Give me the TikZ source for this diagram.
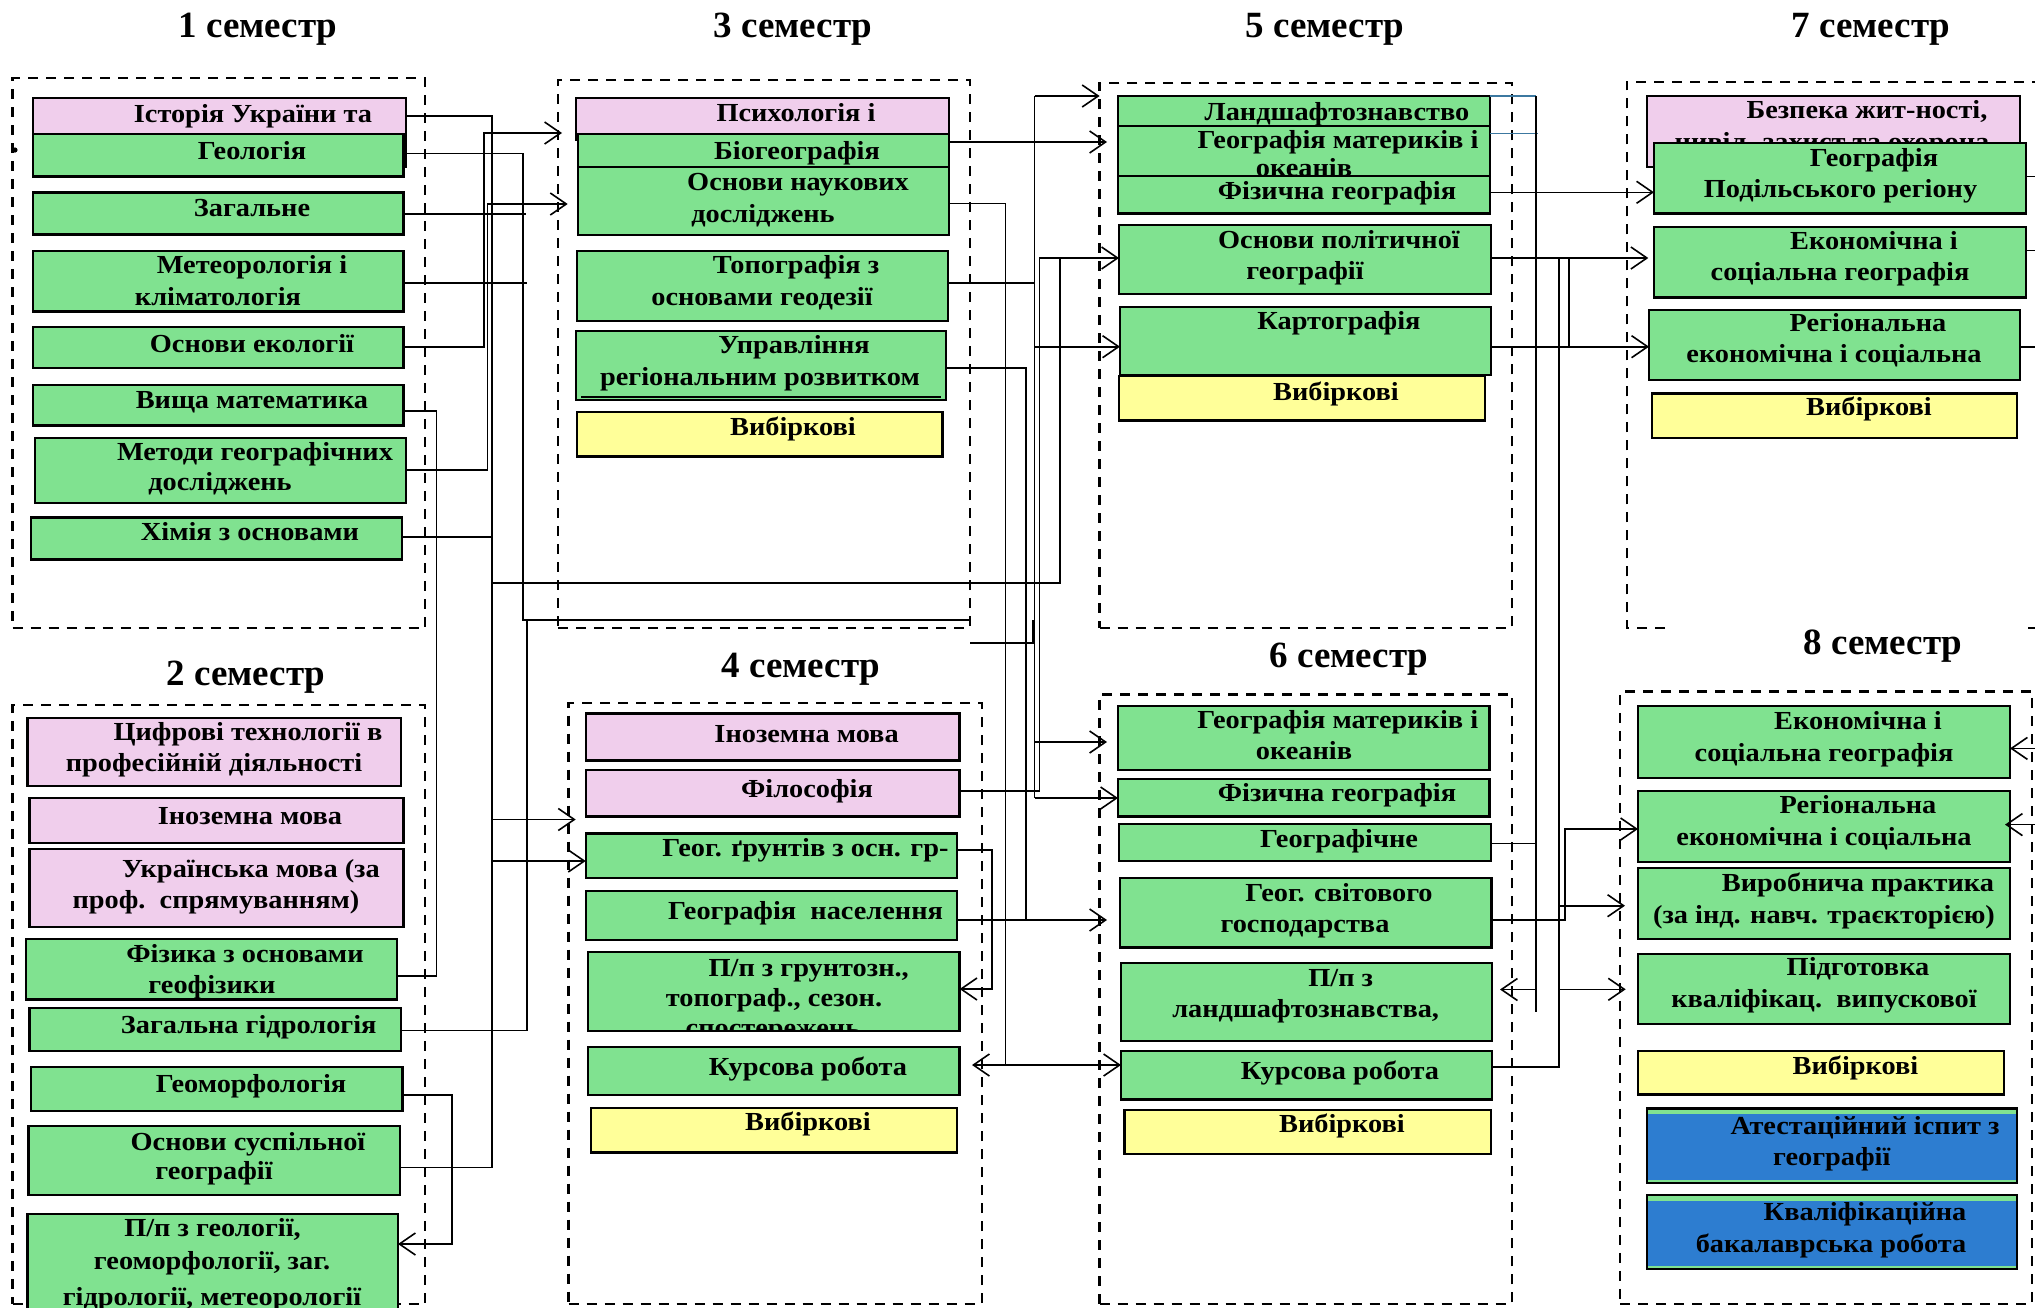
\documentclass[tikz,border=0pt]{standalone}
\usepackage{fontspec}
\setmainfont{Liberation Serif}
\newfontfamily\boxfont{Liberation Serif}[FakeStretch=1.09]
\usetikzlibrary{fit,arrows.meta}
\definecolor{cgreen}{RGB}{128,226,144}
\definecolor{cpink}{RGB}{240,206,236}
\definecolor{cyellow}{RGB}{255,255,153}
\definecolor{cblue}{RGB}{45,125,208}
\definecolor{csteel}{RGB}{60,120,160}
\tikzset{
 sem/.style={draw, dash pattern=on 5pt off 4pt, line width=1.2pt, inner sep=0pt, outer sep=0pt, rectangle},
 bx/.style={draw, line width=1.2pt, inner sep=0pt, outer sep=0pt, rectangle},
 tx/.style={font=\boxfont\fontsize{13}{15}\selectfont\bfseries, inner sep=0pt, text height=.7em, text depth=.2em},
 ttl/.style={font=\fontsize{18.5}{20}\selectfont\bfseries, inner sep=0pt},
 ln/.style={line width=0.8pt},
 arr/.style={line width=0.8pt, -{Straight Barb[length=8pt,width=11pt]}},
}
\newcommand{\mybx}[6]{\node[bx,fill=#6,fit={(#2,#3) (#4,#5)}] (#1) {};}
\newcommand{\mytx}[4]{\node[tx] (#1) at (#2,#3) {#4};}
\begin{document}
\begin{tikzpicture}[x=0.5pt,y=-0.5pt]
\fill[white] (0,0) rectangle (2035,1307);
\useasboundingbox (0,0) rectangle (2035,1307);

% titles
\node[ttl] (t1) at (258,29) {1 семестр};
\node[ttl] (t3) at (793,29) {3 семестр};
\node[ttl] (t5) at (1325,29) {5 семестр};
\node[ttl] (t7) at (1871,29) {7 семестр};
\node[ttl] (t2) at (246,677) {2 семестр};
\node[ttl] (t4) at (801,669) {4 семестр};
\node[ttl] (t6) at (1349,659) {6 семестр};
\node[ttl] (t8) at (1883,646) {8 семестр};

% semester frames
\node[sem,fit={(12.5,78) (425,628)}] (s1) {};
\fill (15,150) circle[radius=1.3pt];
\node[sem,fit={(558,80) (970,628)}] (s3) {};
\node[sem,fit={(1099.6,83) (1512,628)}] (s5) {};
\draw[dash pattern=on 5pt off 4pt, line width=1.2pt] (1665,628) -- (1626.7,628) -- (1626.7,81.7) -- (2045,81.7);
\draw[dash pattern=on 5pt off 4pt, line width=1.2pt] (2028,628) -- (2045,628);
\node[sem,fit={(12.5,705) (425,1304)}] (s2) {};
\node[sem,fit={(568.6,703) (981.8,1304)}] (s4) {};
\node[sem,fit={(1099.6,694.5) (1512,1304)}] (s6) {};
\node[sem,fit={(1620,691.4) (2032,1304)}] (s8) {};

% ---- semester 1
\mybx{hist}{33}{98}{406}{167}{cpink}
\mytx{hist-t}{253}{117}{Історія України та}
\mybx{geol}{33}{134}{403.6}{176.5}{cgreen}
\mytx{geol-t}{252}{154}{Геологія}
\mybx{zag}{33}{192.4}{403.6}{234.6}{cgreen}
\mytx{zag-t}{252}{211}{Загальне}
\mybx{meteo}{33}{251}{403.6}{311.5}{cgreen}
\mytx{meteo-t1}{252}{268}{Метеорологія і}
\mytx{meteo-t2}{218}{300}{кліматологія}
\mybx{ekol}{33}{327}{403.6}{368}{cgreen}
\mytx{ekol-t}{252}{347}{Основи екології}
\mybx{math}{33}{385}{403.6}{425.5}{cgreen}
\mytx{math-t}{252}{403}{Вища математика}
\mybx{metody}{35}{438}{406}{503}{cgreen}
\mytx{metody-t1}{255}{455}{Методи географічних}
\mytx{metody-t2}{220}{485}{досліджень}
\mybx{khim}{31}{517.6}{402}{559.4}{cgreen}
\mytx{khim-t}{250}{535}{Хімія з основами}

% ---- semester 3
\mybx{psych}{575.7}{98}{949}{139.5}{cpink}
\mytx{psych-t}{796}{116}{Психологія і}
\mybx{biog}{578}{134}{949}{167}{cgreen}
\mytx{biog-t}{797}{154}{Біогеографія}
\mybx{osnnauk}{578}{167}{949}{235}{cgreen}
\mytx{osnnauk-t1}{798}{185}{Основи наукових}
\mytx{osnnauk-t2}{763}{217}{досліджень}
\mybx{topo}{577}{251}{948}{321}{cgreen}
\mytx{topo-t1}{796}{268}{Топографія з}
\mytx{topo-t2}{762}{300}{основами геодезії}
\mybx{uprav}{575.7}{331}{946}{400}{cgreen}
\mytx{uprav-t1}{794}{348.5}{Управління}
\mytx{uprav-t2}{760}{380}{регіональним розвитком}
\draw[line width=0.6pt] (581,397) -- (941,397);
\mybx{vyb3}{577}{412}{942.5}{456.5}{cyellow}
\mytx{vyb3-t}{793}{430}{Вибіркові}

% ---- semester 5
\mybx{land}{1118}{96}{1490}{127}{cgreen}
\mytx{land-t}{1337}{115.5}{Ландшафтознавство}
\mybx{geomat5}{1118}{126}{1490}{176}{cgreen}
\mytx{geomat5-t1}{1338}{143}{Географія материків і}
\mytx{geomat5-t2}{1304}{171}{океанів}
\mybx{fiz5}{1118}{176}{1490}{213.5}{cgreen}
\mytx{fiz5-t}{1337}{194}{Фізична географія}
\mybx{polit}{1119}{225}{1491}{294}{cgreen}
\mytx{polit-t1}{1339}{243}{Основи політичної}
\mytx{polit-t2}{1305}{274}{географії}
\mybx{karto}{1120}{306.7}{1491}{375}{cgreen}
\mytx{karto-t}{1339}{324.5}{Картографія}
\mybx{vyb5}{1119}{376}{1485}{420.6}{cyellow}
\mytx{vyb5-t}{1336}{395}{Вибіркові}

% ---- semester 7
\mybx{bezp}{1646.7}{96}{2020}{167}{cpink}
\mytx{bezp-t1}{1867}{113.6}{Безпека жит-ності,}
\mytx{bezp-t2}{1832}{145}{цивіл. захист та охорона}
\mybx{podil}{1654}{143}{2025.7}{213.5}{cgreen}
\mytx{podil-t1}{1874}{161.7}{Географія}
\mytx{podil-t2}{1840.5}{192.4}{Подільського регіону}
\mybx{ekon7}{1654}{227}{2025.7}{297.5}{cgreen}
\mytx{ekon7-t1}{1874}{244}{Економічна і}
\mytx{ekon7-t2}{1840}{275.6}{соціальна географія}
\mybx{reg7}{1649}{309.7}{2020}{380}{cgreen}
\mytx{reg7-t1}{1868}{326}{Регіональна}
\mytx{reg7-t2}{1834}{357.8}{економічна і соціальна}
\mybx{vyb7}{1651.7}{393.6}{2017}{438}{cyellow}
\mytx{vyb7-t}{1869}{410.7}{Вибіркові}

% ---- semester 2
\mybx{cyfr}{27.5}{718}{400.7}{786}{cpink}
\mytx{cyfr-t1}{248}{735.7}{Цифрові технології в}
\mytx{cyfr-t2}{214}{766}{професійній діяльності}
\mybx{inoz2}{29.6}{798}{403.6}{843}{cpink}
\mytx{inoz2-t}{250}{819.5}{Іноземна мова}
\mybx{ukr}{29.6}{849}{403.6}{927}{cpink}
\mytx{ukr-t1}{251}{872}{Українська мова (за}
\mytx{ukr-t2}{216}{903}{проф.\ \ спрямуванням)}
\mybx{fiz2}{25.7}{939}{397}{999.5}{cgreen}
\mytx{fiz2-t1}{245}{957}{Фізика з основами}
\mytx{fiz2-t2}{212}{988}{геофізики}
\mybx{hydro}{29.6}{1008}{400.7}{1051}{cgreen}
\mytx{hydro-t}{248.7}{1028}{Загальна гідрологія}
\mybx{geomorf}{31}{1066.7}{402.5}{1111}{cgreen}
\mytx{geomorf-t}{251}{1087.5}{Геоморфологія}
\mybx{susp}{28.6}{1126}{400}{1195}{cgreen}
\mytx{susp-t1}{248}{1145}{Основи суспільної}
\mytx{susp-t2}{214}{1174}{географії}
\mybx{pp2}{27.5}{1214}{398}{1318}{cgreen}
\mytx{pp2-t1}{212.5}{1231}{П/п з геології,}
\mytx{pp2-t2}{212}{1264.5}{геоморфології, заг.}
\mytx{pp2-t3}{212}{1300}{гідрології, метеорології}

% ---- semester 4
\mybx{inoz4}{585.7}{713.6}{959.6}{760.4}{cpink}
\mytx{inoz4-t}{806.6}{737}{Іноземна мова}
\mybx{filos}{585.7}{769.7}{959.6}{816.5}{cpink}
\mytx{filos-t}{807}{792}{Філософія}
\mybx{grunt}{585.7}{833.5}{957}{878}{cgreen}
\mytx{grunt-t}{805.5}{851.4}{Геог. ґрунтів з осн. гр-}
\mybx{nasel}{585.7}{891}{957}{940}{cgreen}
\mytx{nasel-t}{805.5}{914.4}{Географія\ \ населення}
\mybx{pp4}{588}{952}{959.6}{1031}{cgreen}
\mytx{pp4-t1}{808.7}{971}{П/п з грунтозн.,}
\mytx{pp4-t2}{774}{1001.6}{топограф., сезон.}
\begin{scope}
\clip (589,953) rectangle (958.6,1030);
\mytx{pp4-t3}{773}{1031}{спостережень}
\end{scope}
\mybx{kurs4}{588}{1047}{959.6}{1095}{cgreen}
\mytx{kurs4-t}{808}{1070.5}{Курсова робота}
\mybx{vyb4}{591}{1108}{957}{1152.6}{cyellow}
\mytx{vyb4-t}{808}{1125}{Вибіркові}

% ---- semester 6
\mybx{geomat6}{1118}{706}{1489.6}{770}{cgreen}
\mytx{geomat6-t1}{1337.7}{723}{Географія материків і}
\mytx{geomat6-t2}{1304}{754}{океанів}
\mybx{fiz6}{1118}{779}{1489.6}{816.5}{cgreen}
\mytx{fiz6-t}{1337}{796.5}{Фізична географія}
\mybx{geogr6}{1119}{824}{1490.7}{861}{cgreen}
\mytx{geogr6-t}{1339}{842}{Географічне}
\mybx{svit}{1120}{878}{1491.4}{947.5}{cgreen}
\mytx{svit-t1}{1339}{896.5}{Геог. світового}
\mytx{svit-t2}{1305}{927}{господарства}
\mybx{pp6}{1121}{963}{1491.8}{1041}{cgreen}
\mytx{pp6-t1}{1340.7}{981.6}{П/п з}
\mytx{pp6-t2}{1305.7}{1012}{ландшафтознавства,}
\mybx{kurs6}{1121}{1051}{1491.8}{1099.4}{cgreen}
\mytx{kurs6-t}{1340}{1074}{Курсова робота}
\mybx{vyb6}{1124.6}{1110}{1490.7}{1154}{cyellow}
\mytx{vyb6-t}{1342}{1127}{Вибіркові}

% ---- semester 8
\mybx{ekon8}{1638}{706}{2010}{778}{cgreen}
\mytx{ekon8-t1}{1858}{724}{Економічна і}
\mytx{ekon8-t2}{1824}{756.7}{соціальна географія}
\mybx{reg8}{1638}{791}{2010}{862}{cgreen}
\mytx{reg8-t1}{1858}{808}{Регіональна}
\mytx{reg8-t2}{1824}{840}{економічна і соціальна}
\mybx{vyrob}{1638}{868}{2010}{939}{cgreen}
\mytx{vyrob-t1}{1858}{886}{Виробнича практика}
\mytx{vyrob-t2}{1824}{918}{(за інд. навч. траєкторією)}
\mybx{pidg}{1638}{954}{2010}{1024}{cgreen}
\mytx{pidg-t1}{1858}{970.5}{Підготовка}
\mytx{pidg-t2}{1824}{1002}{кваліфікац.\ \ випускової}
\mybx{vyb8}{1638}{1050.7}{2004}{1094.5}{cyellow}
\mytx{vyb8-t}{1855.5}{1069}{Вибіркові}
\mybx{atest}{1646.7}{1108.5}{2016.7}{1183}{cgreen}
\fill[cblue] (1647.5,1114) rectangle (2015.9,1180);
\draw[line width=1.2pt] (atest.north west) rectangle (atest.south east);
\mytx{atest-t1}{1865}{1129}{Атестаційний іспит з}
\mytx{atest-t2}{1831.7}{1160}{географії}
\mybx{kval}{1646.7}{1195}{2016.7}{1269}{cgreen}
\fill[cblue] (1647.5,1200.5) rectangle (2015.9,1266);
\draw[line width=1.2pt] (kval.north west) rectangle (kval.south east);
\mytx{kval-t1}{1865}{1215}{Кваліфікаційна}
\mytx{kval-t2}{1831}{1247.4}{бакалаврська робота}

% ---- free ends of connectors
\coordinate (e1) at (575.7,819.5);
\coordinate (e2) at (562,133);
\coordinate (e3) at (567.7,204);
\coordinate (e4) at (526,214);
\coordinate (e5) at (526.8,283);
\coordinate (e6) at (1107,142);
\coordinate (e7) at (972,1065);
\coordinate (e9) at (1107,742);
\coordinate (e10) at (1107,920);
\coordinate (e11) at (1500,989.5);
\coordinate (e12) at (1648.3,258);
\coordinate (e13) at (1625,905.7);
\coordinate (e14) at (1625.7,989.3);
\coordinate (e15) at (2005,824.6);
\coordinate (r1) at (2045,176.5);
\coordinate (r2) at (2045,250.5);
\coordinate (r3) at (2045,346.7);
\coordinate (r4) at (2045,748.4);
\coordinate (r5) at (2045,824.6);

% ---- connectors from semester 1 and 2
\draw[ln] (hist.east |- 0,116) -- (491.7,116) -- (491.7,1167.5) -- (susp.east |- 0,1167.5);
\draw[ln] (khim.east |- 0,537) -- (491.7,537);
\draw[ln] (491.7,583) -- (1060,583) -- (1060,258);
\draw[arr] (491.7,819.5) -- (e1);
\draw[arr] (491.7,861) -- (grunt.west |- 0,861);
\draw[arr] (ekol.east |- 0,346.7) -| (484,133) -- (e2);
\draw[arr] (metody.east |- 0,470) -| (487.5,204) -- (e3);
\draw[ln] (geol.east |- 0,153.5) -| (523,620) -- (s3.east |- 0,620);
\draw[ln] (s3.east |- 0,643) -- (1033,643) -- (1033,620);
\draw[ln] (zag.east |- 0,214) -- (e4);
\draw[ln] (meteo.east |- 0,283) -- (e5);
\draw[ln] (math.east |- 0,411) -| (436.4,976) -- (fiz2.east |- 0,976);
\draw[ln] (hydro.east |- 0,1030.5) -| (527,620);
\draw[arr] (geomorf.east |- 0,1095) -| (452,1244) -- (pp2.east |- 0,1244);

% ---- connectors from semester 3 and 4
\draw[arr] (biog.east |- 0,142) -- (e6);
\draw[ln] (osnnauk.east |- 0,203.5) -| (1005.3,1065);
\draw[arr] (1005.3,1065) -- (e7);
\draw[arr] (1005.3,1065) -- (kurs6.west |- 0,1065);
\draw[ln] (topo.east |- 0,283) -- (1034.5,283);
\draw[ln] (1034.5,96) -- (1034.5,798);
\draw[arr] (1034.5,96) -- (s5.west |- 0,96);
\draw[arr] (1034.5,346.7) -- (karto.west |- 0,346.7);
\draw[arr] (1034.5,742) -- (e9);
\draw[arr] (1034.5,798) -- (fiz6.west |- 0,798);
\draw[ln] (uprav.east |- 0,367.8) -| (1026,920);
\draw[arr] (nasel.east |- 0,920) -- (e10);
\draw[ln] (filos.east |- 0,791) -| (1039.3,258);
\draw[arr] (1039.3,258) -- (polit.west |- 0,258);
\draw[arr] (grunt.east |- 0,849.7) -| (991.8,989) -- (pp4.east |- 0,989);

% ---- connectors from semester 5 and 6
\draw[ln,csteel] (land.east |- 0,96) -- (1536,96);
\draw[ln,csteel] (geomat5.east |- 0,133.3) -- (1538,133.3);
\draw[ln] (1536,96) -- (1536,1012);
\draw[ln] (geogr6.east |- 0,843.3) -- (1536,843.3);
\draw[arr] (1536,989.5) -- (e11);
\draw[arr] (fiz5.east |- 0,192.3) -- (podil.west |- 0,192.3);
\draw[arr] (polit.east |- 0,258) -- (e12);
\draw[ln] (1569,258) -- (1569,346.7);
\draw[arr] (karto.east |- 0,346.7) -- (reg7.west |- 0,346.7);
\draw[ln] (1559,258) -- (1559,1066.7) -- (kurs6.east |- 0,1066.7);
\draw[arr] (1559,905.7) -- (e13);
\draw[arr] (1559,989.3) -- (e14);
\draw[arr] (svit.east |- 0,920) -| (1565,829) -- (reg8.west |- 0,829);

% ---- connectors of semesters 7 and 8 leaving the picture
\draw[ln] (podil.east |- 0,176.5) -- (r1);
\draw[ln] (ekon7.east |- 0,250.5) -- (r2);
\draw[ln] (reg7.east |- 0,346.7) -- (r3);
\draw[arr] (r4) -- (ekon8.east |- 0,748.4);
\draw[arr] (r5) -- (e15);
\end{tikzpicture}
\end{document}
